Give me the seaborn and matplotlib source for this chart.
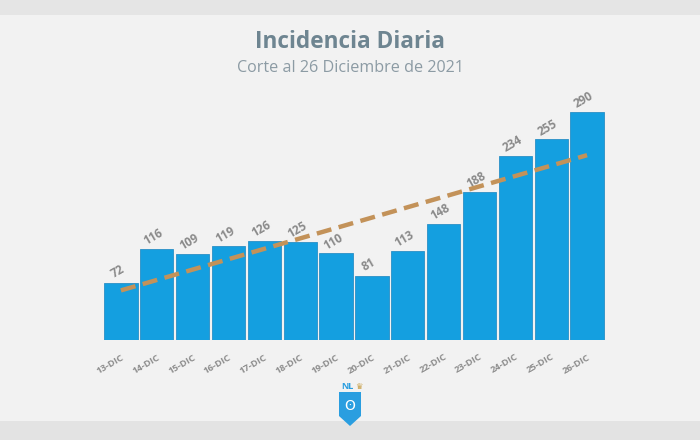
import numpy as np
import pandas as pd
import matplotlib
matplotlib.use("Agg")
import matplotlib.pyplot as plt
from matplotlib.patches import Rectangle, Polygon
import seaborn as sns

dias = ["13-DIC", "14-DIC", "15-DIC", "16-DIC", "17-DIC", "18-DIC", "19-DIC",
        "20-DIC", "21-DIC", "22-DIC", "23-DIC", "24-DIC", "25-DIC", "26-DIC"]
casos = [72, 116, 109, 119, 126, 125, 110, 81, 113, 148, 188, 234, 255, 290]

titulo = "Incidencia Diaria"
subtitulo = "Corte al 26 Diciembre de 2021"

BG = "#f2f2f2"
BAR = "#149fe0"
EDGE = "#2a8fc6"
TREND = "#c39259"
LABEL = "#8a8a8a"

sns.set_theme(style="white")
plt.rcParams["font.family"] = ["Open Sans", "DejaVu Sans"]

df = pd.DataFrame({"dia": dias, "casos": casos, "pos": np.arange(len(dias))})

fig = plt.figure(figsize=(7, 4.4), dpi=100, facecolor=BG)
# frame strips
fig.patches.append(Rectangle((0, 1 - 15 / 440), 1, 15 / 440, transform=fig.transFigure,
                             facecolor="#e5e5e5", edgecolor="none", zorder=-1))
fig.patches.append(Rectangle((0, 0), 1, 19 / 440, transform=fig.transFigure,
                             facecolor="#e3e3e3", edgecolor="none", zorder=-1))

ax = fig.add_axes([103 / 700, 100 / 440, 502 / 700, 236 / 440])
ax.set_facecolor(BG)

sns.barplot(data=df, x="dia", y="casos", color=BAR, width=0.93, saturation=1,
            edgecolor=EDGE, linewidth=0.6, ax=ax)
sns.regplot(data=df, x="pos", y="casos", scatter=False, ci=None, truncate=True,
            line_kws=dict(color=TREND, lw=3.2, ls=(0, (3.4, 1.7)), zorder=5), ax=ax)

ax.set_xlim(-0.5, len(dias) - 0.5)
ax.set_ylim(0, 300)
ax.set_xlabel("")
ax.set_ylabel("")
ax.set_yticks([])
for s in ax.spines.values():
    s.set_visible(False)

for i, v in enumerate(casos):
    ax.annotate(str(v), (i, v), xytext=(0, 4.5), textcoords="offset points",
                ha="center", va="bottom", rotation=30, fontsize=8.5,
                fontweight="bold", color=LABEL, rotation_mode="anchor")

ax.set_xticks(range(len(dias)))
ax.set_xticklabels(dias, rotation=30, ha="right", rotation_mode="anchor",
                   fontsize=6.8, fontweight="bold", color="#8e8e8e")
ax.tick_params(axis="x", length=0, pad=9)

fig.text(0.5, 1 - 42 / 440, titulo, ha="center", va="center", fontsize=16.3,
         fontweight="bold", color="#6e8591")
fig.text(0.5, 1 - 68 / 440, subtitulo, ha="center", va="center", fontsize=11.6,
         color="#8c9ba4")

# small shield logo
cx, top = 350, 392
shield = Polygon([(cx - 11, top), (cx + 11, top), (cx + 11, top + 24), (cx, top + 34),
                  (cx - 11, top + 24)], closed=True,
                 facecolor="#2a9ee0", edgecolor="none")
shield.set_transform(matplotlib.transforms.Affine2D().scale(1, -1).translate(0, 440))
fig.patches.append(shield)
fig.text(cx / 700 - 0.004, 1 - 386 / 440, "NL", ha="center", va="center", fontsize=6.5,
         fontweight="bold", color="#2a9ee0")
fig.text((cx + 9) / 700, 1 - 386 / 440, "♛", ha="center", va="center", fontsize=6,
         color="#c8a04a", family=["DejaVu Sans"])
fig.text(cx / 700, 1 - 406 / 440, "ʘ", ha="center", va="center", fontsize=10,
         color="white", family=["DejaVu Sans"])

fig.savefig("out.png", dpi=100, facecolor=BG)
